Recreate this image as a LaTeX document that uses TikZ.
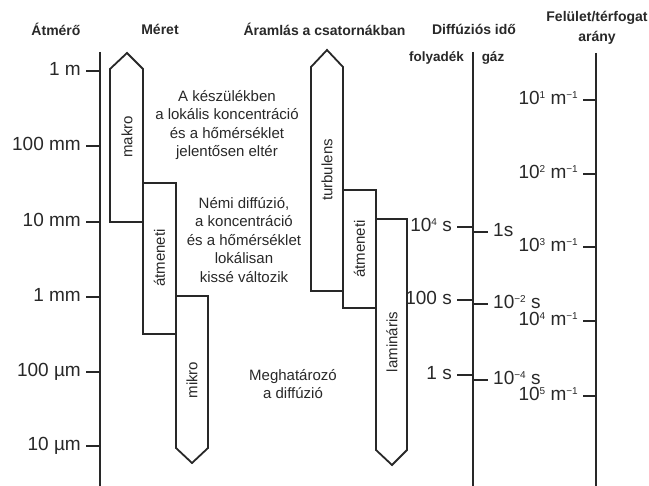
\documentclass[tikz,border=0pt]{standalone}
\usepackage{fontspec}
\setmainfont{Liberation Sans}
\usetikzlibrary{calc, positioning}
\definecolor{ink}{RGB}{40,40,40}
\newcommand\scaletickl[5]{\coordinate (#1) at (#2,#3);\coordinate (#1e) at ($(#1)+(-#4,0)$);\draw[tickline] (#1) -- (#1e);\node[ticklabel, anchor=base east] (#1t) at ($(#1e)+(0,5)$) {#5};}
\newcommand\scaletickr[5]{\coordinate (#1) at (#2,#3);\coordinate (#1e) at ($(#1)+(#4,0)$);\draw[tickline] (#1) -- (#1e);\node[ticklabel, anchor=base west] (#1t) at ($(#1e)+(0,5)$) {#5};}
\newcommand\bartext[4]{\node[rotate=90, barlabel] (#1) at (#2,#3) {#4};}
\newcommand\sups[1]{\raisebox{6.5pt}{\fontsize{10}{10}\selectfont #1}}

\begin{document}
\begin{tikzpicture}[x=1pt, y=-1pt,
	axisline/.style={draw=ink, line width=2.2pt},
	tickline/.style={draw=ink, line width=2pt},
	barline/.style={draw=ink, line width=1.8pt},
	ticklabel/.style={font=\fontsize{19}{21}\selectfont, inner xsep=5pt, inner ysep=0pt, text=ink},
	head/.style={font=\bfseries\fontsize{14}{20}\selectfont, inner sep=0pt, text=ink},
	subhead/.style={font=\bfseries\fontsize{13.5}{16}\selectfont, inner sep=0pt, text=ink},
	note/.style={align=center, font=\fontsize{15}{18.5}\selectfont, inner sep=0pt, text=ink},
	barlabel/.style={font=\fontsize{15}{17}\selectfont, inner sep=0pt, text=ink}]
\useasboundingbox (0,0) rectangle (649,486);

\node[head] (hdiam) at (56,29) {Átmérő};
\node[head] (hsize) at (160,29) {Méret};
\node[head] (hflow) at (324.5,29) {Áramlás a csatornákban};
\node[head] (hdiff) at (474,29) {Diffúziós idő};
\node[head, align=center] (hratio) at (597,28) {Felület/térfogat\\arány};
\node[subhead] (hliq) at (436.5,58) {folyadék};
\node[subhead] (hgas) at (493,58) {gáz};

% axes
\coordinate (dtop) at (100,52); \coordinate (dbot) at (100,486);
\coordinate (ttop) at (473,52); \coordinate (tbot) at (473,486);
\coordinate (rtop) at (596,53); \coordinate (rbot) at (596,486);
\draw[axisline] (dtop) -- (dbot);
\draw[axisline] (ttop) -- (tbot);
\draw[axisline] (rtop) -- (rbot);

\scaletickl{d1}{100}{71}{14}{1 m}
\scaletickl{d2}{100}{146}{14}{100 mm}
\scaletickl{d3}{100}{222}{14}{10 mm}
\scaletickl{d4}{100}{297}{14}{1 mm}
\scaletickl{d5}{100}{372}{14}{100 µm}
\scaletickl{d6}{100}{446}{14}{10 µm}

\scaletickl{l1}{473}{227}{16}{10\sups{4} s}
\scaletickl{l2}{473}{300}{16}{100 s}
\scaletickl{l3}{473}{375}{16}{1 s}
\scaletickr{g1}{473}{232}{15}{1s}
\scaletickr{g2}{473}{304}{15}{10\sups{−2} s}
\scaletickr{g3}{473}{380}{15}{10\sups{−4} s}

\scaletickl{r1}{596}{100}{13}{10\sups{1} m\sups{−1}}
\scaletickl{r2}{596}{174}{13}{10\sups{2} m\sups{−1}}
\scaletickl{r3}{596}{247}{13}{10\sups{3} m\sups{−1}}
\scaletickl{r4}{596}{321}{13}{10\sups{4} m\sups{−1}}
\scaletickl{r5}{596}{396}{13}{10\sups{5} m\sups{−1}}

% bars
\draw[barline] (110,222) -- (110,69) -- (127,53) -- (143,69) -- (143,222) -- cycle;
\draw[barline] (143,183) rectangle (176,334);
\draw[barline] (176,296) -- (208,296) -- (208,448) -- (192,463) -- (176,448) -- cycle;
\draw[barline] (311,291) -- (311,67) -- (327,50) -- (343,67) -- (343,291) -- cycle;
\draw[barline] (343,190) rectangle (376,308);
\draw[barline] (376,219) -- (407,219) -- (407,450) -- (392,465) -- (376,450) -- cycle;

\bartext{bmacro}{127}{137}{makro}
\bartext{bmeso}{159.5}{258}{átmeneti}
\bartext{bmicro}{192}{380}{mikro}
\bartext{bturb}{327}{170}{turbulens}
\bartext{btrans}{359.5}{249}{átmeneti}
\bartext{blam}{392}{342}{lamináris}

\node[note] (nmacro) at (227,125) {A készülékben\\a lokális koncentráció\\és a hőmérséklet\\jelentősen eltér};
\node[note] (nmeso) at (244,240) {Némi diffúzió,\\a koncentráció\\és a hőmérséklet\\lokálisan\\kissé változik};
\node[note] (nmicro) at (293,384) {Meghatározó\\a diffúzió};
\end{tikzpicture}
\end{document}
